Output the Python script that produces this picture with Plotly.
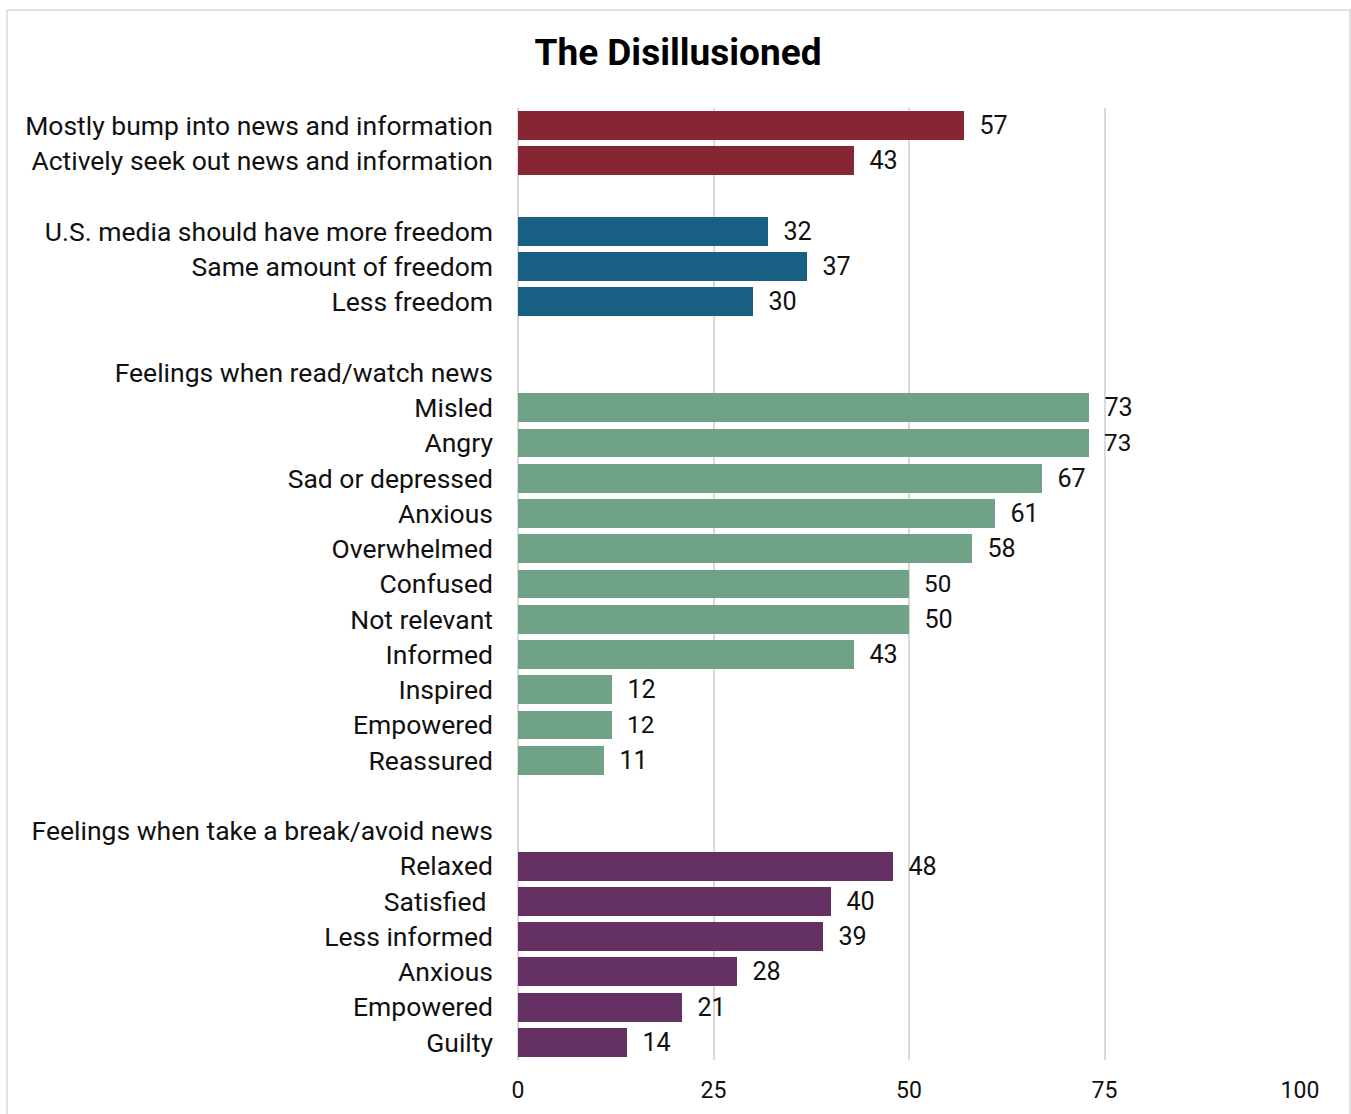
import plotly.graph_objects as go

# ---- Data ----
title_text = "The Disillusioned"

grp1_labels = ["Mostly bump into news and information", "Actively seek out news and information"]
grp1_values = [57, 43]

grp2_labels = ["U.S. media should have more freedom", "Same amount of freedom", "Less freedom"]
grp2_values = [32, 37, 30]

grp3_header = "Feelings when read/watch news"
grp3_labels = ["Misled", "Angry", "Sad or depressed", "Anxious", "Overwhelmed", "Confused",
               "Not relevant", "Informed", "Inspired", "Empowered", "Reassured"]
grp3_values = [73, 73, 67, 61, 58, 50, 50, 43, 12, 12, 11]

grp4_header = "Feelings when take a break/avoid news"
grp4_labels = ["Relaxed", "Satisfied\u00a0", "Less informed", "Anxious", "Empowered", "Guilty"]
grp4_values = [48, 40, 39, 28, 21, 14]

x_ticks = [0, 25, 50, 75, 100]

colors = ["#862633", "#176083", "#6FA287", "#653165"]

groups = [
    (None, grp1_labels, grp1_values, colors[0]),
    (None, grp2_labels, grp2_values, colors[1]),
    (grp3_header, grp3_labels, grp3_values, colors[2]),
    (grp4_header, grp4_labels, grp4_values, colors[3]),
]

fig = go.Figure()
tickvals, ticktext = [], []
row = 0
for gi, (header, labels, values, color) in enumerate(groups):
    if gi > 0:
        row += 1  # blank spacer row
    if header:
        tickvals.append(row)
        ticktext.append(header)
        row += 1
    ys = []
    for lab in labels:
        tickvals.append(row)
        ticktext.append(lab)
        ys.append(row)
        row += 1
    fig.add_trace(go.Bar(
        x=values, y=ys, orientation="h",
        marker=dict(color=color, line=dict(width=0)),
        width=0.82,
        text=["\u00a0\u00a0" + str(v) for v in values],
        textposition="outside",
        textfont=dict(family="Roboto", size=26, color="#111111"),
        cliponaxis=False,
        showlegend=False,
        hoverinfo="skip",
    ))

nrows = row
W, H = 1351, 1114
L, R, T, B = 518, 51, 108, 54
pw, ph = W - L - R, H - T - B

fig.update_layout(
    width=W, height=H,
    margin=dict(l=L, r=R, t=T, b=B, autoexpand=False),
    paper_bgcolor="white", plot_bgcolor="white",
    font=dict(family="Roboto", size=24, color="#111111"),
    title=dict(text="<b>" + title_text + "</b>", x=678 / W, xanchor="center",
               y=1 - 52 / H, yanchor="middle",
               font=dict(family="Roboto", size=37, color="#000000")),
    bargap=0,
    xaxis=dict(range=[0, 100], tickvals=x_ticks, showgrid=True, gridcolor="#d9d9d9",
               gridwidth=2, zeroline=True, zerolinecolor="#d9d9d9", zerolinewidth=2,
               showline=False, ticks="", ticklabelstandoff=14, automargin=False,
               tickfont=dict(family="Roboto", size=23, color="#111111")),
    yaxis=dict(range=[nrows - 0.5, -0.5], tickvals=tickvals, ticktext=ticktext,
               showgrid=False, zeroline=False, showline=False, ticks="",
               ticklabelstandoff=24, automargin=False,
               tickfont=dict(family="Roboto", size=26.5, color="#111111")),
    shapes=[dict(type="rect", xref="paper", yref="paper",
                 x0=(7 - L) / pw, x1=(1350 - L) / pw,
                 y0=(H - T - 1130) / ph, y1=(H - B - 10) / ph,
                 line=dict(color="#d9d9d9", width=1.5), fillcolor="rgba(0,0,0,0)", layer="below")],
)

fig.write_html("out.html", config={"displayModeBar": False},
               post_script="document.body.style.margin='0px';")
